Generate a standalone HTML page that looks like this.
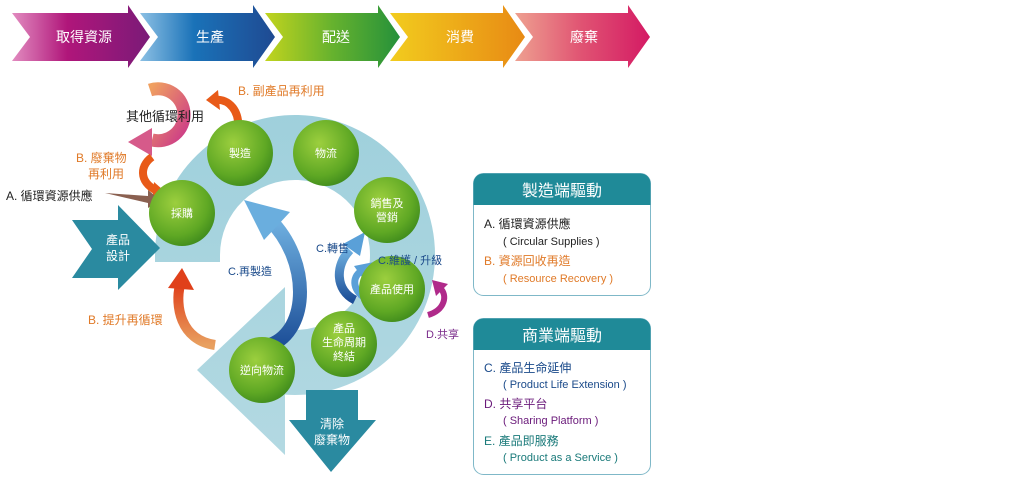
<!DOCTYPE html>
<html><head><meta charset="utf-8"><style>
body{margin:0;background:#fff;width:1024px;height:484px;overflow:hidden;font-family:"Liberation Sans","Noto Sans CJK TC",sans-serif}
svg text{font-family:"Liberation Sans","Noto Sans CJK TC",sans-serif}
</style></head><body>
<svg width="1024" height="484" viewBox="0 0 1024 484" xmlns="http://www.w3.org/2000/svg">
<defs>
<linearGradient id="c1" x1="0" x2="1"><stop offset="0" stop-color="#e28cc0"/><stop offset=".4" stop-color="#b0167a"/><stop offset="1" stop-color="#7a1a78"/></linearGradient>
<linearGradient id="c2" x1="0" x2="1"><stop offset="0" stop-color="#8cc0e4"/><stop offset=".4" stop-color="#1a72b8"/><stop offset="1" stop-color="#1f4a92"/></linearGradient>
<linearGradient id="c3" x1="0" x2="1"><stop offset="0" stop-color="#c2d41e"/><stop offset=".5" stop-color="#66b22e"/><stop offset="1" stop-color="#25913a"/></linearGradient>
<linearGradient id="c4" x1="0" x2="1"><stop offset="0" stop-color="#f2cc1e"/><stop offset="1" stop-color="#e88a14"/></linearGradient>
<linearGradient id="c5" x1="0" x2="1"><stop offset="0" stop-color="#eea090"/><stop offset=".5" stop-color="#e05272"/><stop offset="1" stop-color="#d41a64"/></linearGradient>
<radialGradient id="g" cx=".4" cy=".35" r=".7"><stop offset="0" stop-color="#9ccf3e"/><stop offset=".7" stop-color="#5fa824"/><stop offset="1" stop-color="#3e8a1c"/></radialGradient>
<linearGradient id="ring" x1="0" y1="0" x2="0" y2="1"><stop offset="0" stop-color="#9fd0dc"/><stop offset="1" stop-color="#b3d9e2"/></linearGradient>
<linearGradient id="bl" x1="0" y1="1" x2="0" y2="0"><stop offset="0" stop-color="#1d4f98"/><stop offset="1" stop-color="#6fb0e0"/></linearGradient>
<linearGradient id="or" x1="0" y1="1" x2="0" y2="0"><stop offset="0" stop-color="#e8a060"/><stop offset="1" stop-color="#e0401a"/></linearGradient>
<linearGradient id="pk" x1="0" y1="0" x2="1" y2="1"><stop offset="0" stop-color="#f0a060"/><stop offset="1" stop-color="#cc3a88"/></linearGradient>
</defs>
<g>
<polygon points="12,13 128,13 128,5 150,37 128,68 128,61 12,61 30,37" fill="url(#c1)"/>
<polygon points="140,13 253,13 253,5 275,37 253,68 253,61 140,61 158,37" fill="url(#c2)"/>
<polygon points="265,13 378,13 378,5 400,37 378,68 378,61 265,61 283,37" fill="url(#c3)"/>
<polygon points="390,13 503,13 503,5 525,37 503,68 503,61 390,61 408,37" fill="url(#c4)"/>
<polygon points="515,13 628,13 628,5 650,37 628,68 628,61 515,61 533,37" fill="url(#c5)"/>
<g fill="#fff" font-size="14" text-anchor="middle">
<text x="84" y="42">取得資源</text><text x="210" y="42">生產</text><text x="336" y="42">配送</text><text x="460" y="42">消費</text><text x="584" y="42">廢棄</text>
</g></g>
<path d="M155,262 L155,255 A140,140 0 1 1 285,394.6 L285,455 L197,370 L285,287 L285,329.3 A75,75 0 1 0 220,255 L220,262 Z" fill="url(#ring)"/>
<polygon points="72,220 118,220 118,205 160,248 118,290 118,278 72,278 92,249" fill="#2a8aa0"/>
<text x="118" y="244" fill="#fff" font-size="12" text-anchor="middle">產品</text>
<text x="118" y="260" fill="#fff" font-size="12" text-anchor="middle">設計</text>
<polygon points="306,390 358,390 358,420 376,420 331,472 289,420 306,420" fill="#2a8aa0"/>
<text x="332" y="428" fill="#fff" font-size="12" text-anchor="middle">清除</text>
<text x="332" y="444" fill="#fff" font-size="12" text-anchor="middle">廢棄物</text>
<path d="M150,90 A26,26 0 1 1 152,140" fill="none" stroke="url(#pk)" stroke-width="13"/>
<polygon points="128,142 152,128 152,156" fill="#d65a8a"/>
<text x="165" y="121" font-size="13" fill="#222" text-anchor="middle">其他循環利用</text>
<path d="M238,130 C240,112 230,98 214,100" fill="none" stroke="#e85a18" stroke-width="8"/>
<polygon points="206,100 218,90 220,110" fill="#e85a18"/>
<text x="238" y="95" font-size="12" fill="#e07a28">B. 副產品再利用</text>
<path d="M152,157 C138,167 140,185 160,192" fill="none" stroke="#e85a18" stroke-width="8"/>
<polygon points="170,196 154,182 152,202" fill="#e85a18"/>
<text x="76" y="162" font-size="12" fill="#e07a28">B. 廢棄物</text>
<text x="88" y="178" font-size="12" fill="#e07a28">再利用</text>
<polygon points="105,193 148,196 148,190 160,200 148,208 148,203" fill="#8a6050"/>
<text x="6" y="200" font-size="12" fill="#222">A. 循環資源供應</text>
<path d="M215,345 C180,340 175,305 180,285" fill="none" stroke="url(#or)" stroke-width="10"/>
<polygon points="168,288 182,268 194,290" fill="#e0401a"/>
<text x="88" y="324" font-size="12" fill="#e07a28">B. 提升再循環</text>
<path d="M270,345 C310,330 310,260 270,220" fill="none" stroke="url(#bl)" stroke-width="14"/>
<polygon points="244,200 290,212 264,240" fill="#6aaede"/>
<text x="228" y="275" font-size="11" fill="#1a4a8a">C.再製造</text>
<path d="M355,300 C335,290 335,265 350,250" fill="none" stroke="url(#bl)" stroke-width="9"/>
<polygon points="365,232 343,244 360,256" fill="#5aa0d8"/>
<path d="M370,300 C355,295 350,280 360,272" fill="none" stroke="#5aa0d8" stroke-width="7"/>
<polygon points="374,262 354,266 364,280" fill="#5aa0d8"/>
<path d="M428,315 C445,310 448,295 440,288" fill="none" stroke="#b02a8a" stroke-width="6"/>
<polygon points="432,280 448,284 436,296" fill="#b02a8a"/>
<text x="426" y="338" font-size="11" fill="#7a2a8a">D.共享</text>
<g fill="url(#g)">
<circle cx="240" cy="153" r="33"/><circle cx="326" cy="153" r="33"/><circle cx="387" cy="210" r="33"/>
<circle cx="392" cy="289" r="33"/><circle cx="344" cy="344" r="33"/><circle cx="262" cy="370" r="33"/><circle cx="182" cy="213" r="33"/>
</g>
<g fill="#fff" font-size="11" text-anchor="middle">
<text x="240" y="157">製造</text><text x="326" y="157">物流</text>
<text x="387" y="207">銷售及</text><text x="387" y="221">營銷</text>
<text x="392" y="293">產品使用</text>
<text x="344" y="332">產品</text><text x="344" y="346">生命周期</text><text x="344" y="360">終結</text>
<text x="262" y="374">逆向物流</text><text x="182" y="217">採購</text>
</g>
<text x="316" y="252" font-size="11" fill="#1a4a8a">C.轉售</text>
<text x="378" y="264" font-size="11" fill="#1a4a8a">C.維護 / 升級</text>
<g>
<rect x="473.5" y="173.5" width="177" height="122" rx="10" fill="#fff" stroke="#7fb8c8"/>
<path d="M473.5,205 V183.5 a10,10 0 0 1 10,-10 H640.5 a10,10 0 0 1 10,10 V205 Z" fill="#1f8a98"/>
<text x="562" y="196" font-size="16" fill="#fff" text-anchor="middle">製造端驅動</text>
<text x="484" y="228" font-size="12" fill="#222">A. 循環資源供應</text>
<text x="503" y="245" font-size="11" fill="#222">( Circular Supplies )</text>
<text x="484" y="265" font-size="12" fill="#e07a28">B. 資源回收再造</text>
<text x="503" y="282" font-size="11" fill="#e07a28">( Resource Recovery )</text>
<rect x="473.5" y="318.5" width="177" height="156" rx="10" fill="#fff" stroke="#7fb8c8"/>
<path d="M473.5,350 V328.5 a10,10 0 0 1 10,-10 H640.5 a10,10 0 0 1 10,10 V350 Z" fill="#1f8a98"/>
<text x="562" y="341" font-size="16" fill="#fff" text-anchor="middle">商業端驅動</text>
<text x="484" y="372" font-size="12" fill="#1a4a8a">C. 產品生命延伸</text>
<text x="503" y="388" font-size="11" fill="#1a4a8a">( Product Life Extension )</text>
<text x="484" y="408" font-size="12" fill="#6a1a7a">D. 共享平台</text>
<text x="503" y="424" font-size="11" fill="#6a1a7a">( Sharing Platform )</text>
<text x="484" y="445" font-size="12" fill="#1a7a7a">E. 產品即服務</text>
<text x="503" y="461" font-size="11" fill="#1a7a7a">( Product as a Service )</text>
</g>
</svg>
</body></html>
